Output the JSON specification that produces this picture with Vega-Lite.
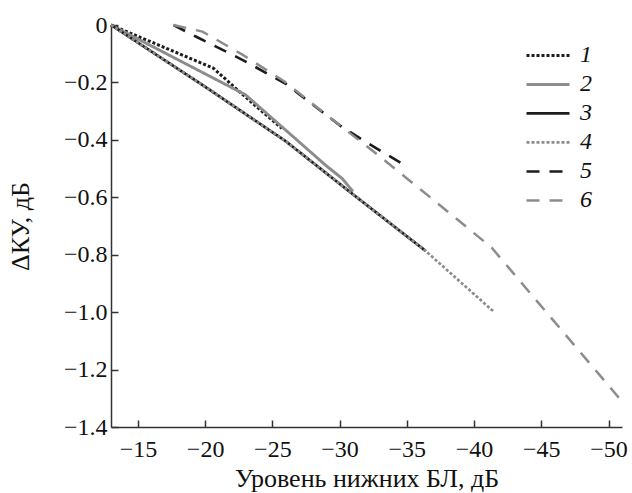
{
  "$schema": "https://vega.github.io/schema/vega-lite/v6.json",
  "width": 511,
  "height": 402,
  "autosize": {"type": "none"},
  "padding": {"left": 111, "top": 25, "right": 10, "bottom": 66},
  "config": {
    "view": {"stroke": null},
    "font": "Liberation Serif",
    "axis": {
      "grid": false,
      "domainColor": "#333333",
      "domainWidth": 1.5,
      "tickColor": "#333333",
      "tickWidth": 1.5,
      "tickSize": -7,
      "labelColor": "#111111",
      "titleColor": "#111111",
      "labelFont": "Liberation Serif",
      "titleFont": "Liberation Serif",
      "labelFontSize": 24,
      "titleFontSize": 26,
      "titleFontWeight": "normal"
    }
  },
  "data": {
    "values": [
      {"s": "1", "x": -13, "y": 0},
      {"s": "1", "x": -20.6, "y": -0.15},
      {"s": "1", "x": -23.1, "y": -0.255},
      {"s": "1", "x": -25.7, "y": -0.36},
      {"s": "2", "x": -13, "y": 0},
      {"s": "2", "x": -23, "y": -0.243},
      {"s": "2", "x": -29, "y": -0.49},
      {"s": "2", "x": -30.2, "y": -0.535},
      {"s": "2", "x": -31, "y": -0.58},
      {"s": "3", "x": -13, "y": 0},
      {"s": "3", "x": -20, "y": -0.215},
      {"s": "3", "x": -26, "y": -0.405},
      {"s": "3", "x": -31, "y": -0.59},
      {"s": "3", "x": -36.4, "y": -0.787},
      {"s": "4", "x": -13, "y": 0},
      {"s": "4", "x": -20, "y": -0.215},
      {"s": "4", "x": -26, "y": -0.405},
      {"s": "4", "x": -31, "y": -0.59},
      {"s": "4", "x": -36.4, "y": -0.787},
      {"s": "4", "x": -41.5, "y": -1.0},
      {"s": "5", "x": -17.65, "y": 0},
      {"s": "5", "x": -19.3, "y": -0.04},
      {"s": "5", "x": -22.8, "y": -0.122},
      {"s": "5", "x": -26, "y": -0.205},
      {"s": "5", "x": -30.2, "y": -0.356},
      {"s": "5", "x": -33.1, "y": -0.44},
      {"s": "5", "x": -35.1, "y": -0.495},
      {"s": "6", "x": -17.65, "y": 0},
      {"s": "6", "x": -19.8, "y": -0.023},
      {"s": "6", "x": -22.8, "y": -0.104},
      {"s": "6", "x": -25.9, "y": -0.197},
      {"s": "6", "x": -30.2, "y": -0.356},
      {"s": "6", "x": -33, "y": -0.458},
      {"s": "6", "x": -37, "y": -0.61},
      {"s": "6", "x": -41.3, "y": -0.775},
      {"s": "6", "x": -50.8, "y": -1.3}
    ]
  },
  "mark": {"type": "line"},
  "encoding": {
    "x": {
      "field": "x",
      "type": "quantitative",
      "scale": {"domain": [-13, -51], "nice": false, "zero": false},
      "axis": {
        "title": "Уровень нижних БЛ, дБ",
        "values": [-15, -20, -25, -30, -35, -40, -45, -50],
        "format": "d",
        "labelPadding": 17,
        "titlePadding": 4
      }
    },
    "y": {
      "field": "y",
      "type": "quantitative",
      "scale": {"domain": [-1.4, 0], "nice": false, "zero": false},
      "axis": {
        "title": "ΔКУ, дБ",
        "values": [0, -0.2, -0.4, -0.6, -0.8, -1.0, -1.2, -1.4],
        "labelExpr": "datum.value == 0 ? '0' : format(datum.value, '.1f')",
        "labelPadding": 11,
        "titlePadding": 30
      }
    },
    "color": {
      "field": "s",
      "type": "ordinal",
      "scale": {
        "domain": ["1", "2", "3", "4", "5", "6"],
        "range": ["#1c1c1c", "#8c8c8c", "#1c1c1c", "#8c8c8c", "#1c1c1c", "#8c8c8c"]
      },
      "legend": {
        "title": null,
        "orient": "none",
        "legendX": 414,
        "legendY": 16,
        "symbolType": "stroke",
        "symbolSize": 1849,
        "clipHeight": 28.9,
        "rowPadding": 0,
        "labelFont": "Liberation Serif",
        "labelFontStyle": "italic",
        "labelFontSize": 24,
        "labelColor": "#111111",
        "labelOffset": 9,
        "encode": {
          "symbols": {
            "update": {
              "strokeDash": {"signal": "datum.value == '5' || datum.value == '6' ? [15, 13] : (datum.value == '1' || datum.value == '4' ? [3, 2.4] : [1, 0])"}
            }
          }
        }
      }
    },
    "strokeDash": {
      "field": "s",
      "type": "ordinal",
      "scale": {
        "domain": ["1", "2", "3", "4", "5", "6"],
        "range": [[3, 2], [1, 0], [1, 0], [3, 2], [13, 10], [13, 10]]
      }
    },
    "strokeWidth": {
      "field": "s",
      "type": "ordinal",
      "scale": {
        "domain": ["1", "2", "3", "4", "5", "6"],
        "range": [3, 2.5, 2.5, 3, 3, 3]
      }
    }
  }
}
